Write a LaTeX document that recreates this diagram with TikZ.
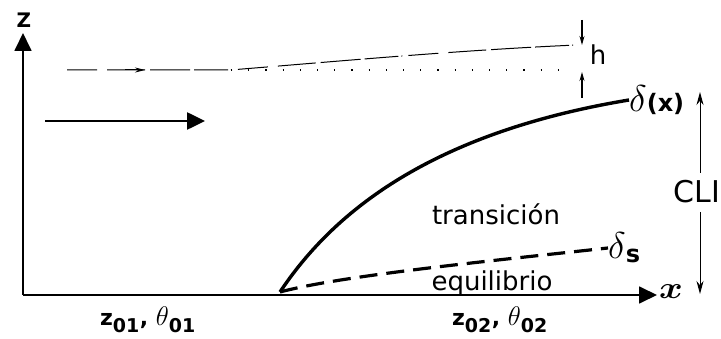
\documentclass[tikz,border=0pt]{standalone}
\usepackage{graphicx}
\usepackage{fontspec}
\setmainfont{DejaVu Sans}
\usetikzlibrary{arrows.meta}
\newcommand{\bigdelta}{\scalebox{1.5}{$\delta$}}
\newcommand{\bigtheta}{\scalebox{1.3}{$\theta$}}
\begin{document}
\begin{tikzpicture}[x=1pt,y=-1pt,
  axisline/.style={line width=1.8pt,-{Triangle[length=18pt,width=17pt]}},
  flowarrow/.style={line width=2.6pt,-{Triangle[length=18pt,width=17pt]}},
  thinarrow/.style={line width=1pt,-{Stealth[length=13pt,width=7pt]}},
  harrow/.style={line width=1.1pt,-{Stealth[length=9pt,width=5pt]}},
  lbl/.style={inner sep=0pt,font=\fontsize{26}{30}\selectfont},
  boldlbl/.style={inner sep=0pt,font=\fontsize{22}{26}\selectfont\bfseries}]
\useasboundingbox (0,0) rectangle (721,339);
% axes
\coordinate (O) at (23,295);
\coordinate (zt) at (23,33);
\coordinate (xt) at (657,295);
\draw[axisline] (O) -- (zt);
\draw[axisline] (O) -- (xt);
\node[inner sep=0pt,font=\fontsize{20}{24}\selectfont\bfseries] (zl) at (24,20) {Z};
\node[inner sep=0pt,font=\fontsize{24}{28}\selectfont] (xl) at (671,292) {\scalebox{1.45}[1.25]{\boldmath$x$}};
% free stream arrow
\coordinate (fa) at (45,121);
\coordinate (fb) at (205,121);
\draw[flowarrow] (fa) -- (fb);
% dashed upper streamline
\coordinate (s0) at (67,70);
\coordinate (s1) at (145,70);
\coordinate (s2) at (230,70);
\coordinate (s3) at (577,45);
\draw[line width=1pt,dash pattern=on 30pt off 10pt on 38pt off 5pt on 40pt off 4pt on 34pt off 3pt on 1pt off 6pt] (s0) -- (s2) .. controls (330,62) and (460,50) .. (s3);
\draw[line width=1pt,-{Stealth[length=10pt,width=5pt]}] (125,70) -- (s1);
% dotted reference line
\coordinate (d0) at (231,70);
\coordinate (d1) at (570,70);
\draw[line width=1.2pt,dash pattern=on 1.2pt off 16pt] (d0) -- (d1);
% h arrows
\coordinate (h1a) at (582,20);
\coordinate (h1b) at (582,45);
\coordinate (h2a) at (582,98);
\coordinate (h2b) at (582,72);
\draw[harrow] (h1a) -- (h1b);
\draw[harrow] (h2a) -- (h2b);
\node[lbl] (hl) at (598,55) {h};
% boundary layer curves
\coordinate (x0) at (280,292);
\node[inner sep=0pt,anchor=west,font=\fontsize{24}{28}\selectfont] (dx) at (629,100) {\bigdelta\bfseries(x)};
\draw[line width=3.4pt] (x0) .. controls (330,217) and (424,134) .. (dx.west);
\node[inner sep=0pt,anchor=west,font=\fontsize{24}{28}\selectfont] (ds) at (608,248) {\bigdelta\raisebox{-4pt}{\bfseries s}};
\draw[line width=3.2pt,dash pattern=on 18pt off 9pt] (x0) .. controls (340,276) and (480,262) .. (ds.west);
% CLI
\node[inner sep=0pt,font=\fontsize{30}{34}\selectfont] (cli) at (697,192) {CLI};
\coordinate (ct) at (700,92);
\coordinate (cb) at (700,294);
\draw[thinarrow] (700,173) -- (ct);
\draw[thinarrow] (700,212) -- (cb);
% region labels
\node[lbl] (tr) at (496,214) {transición};
\node[lbl] (eq) at (492,283) {equilibrio};
% bottom labels
\node[boldlbl] (l1) at (148,320) {z\textsubscript{\fontsize{19}{20}\selectfont 01}, \bigtheta\textsubscript{\fontsize{19}{20}\selectfont 01}};
\node[boldlbl] (l2) at (500,320) {z\textsubscript{\fontsize{19}{20}\selectfont 02}, \bigtheta\textsubscript{\fontsize{19}{20}\selectfont 02}};
\end{tikzpicture}
\end{document}
